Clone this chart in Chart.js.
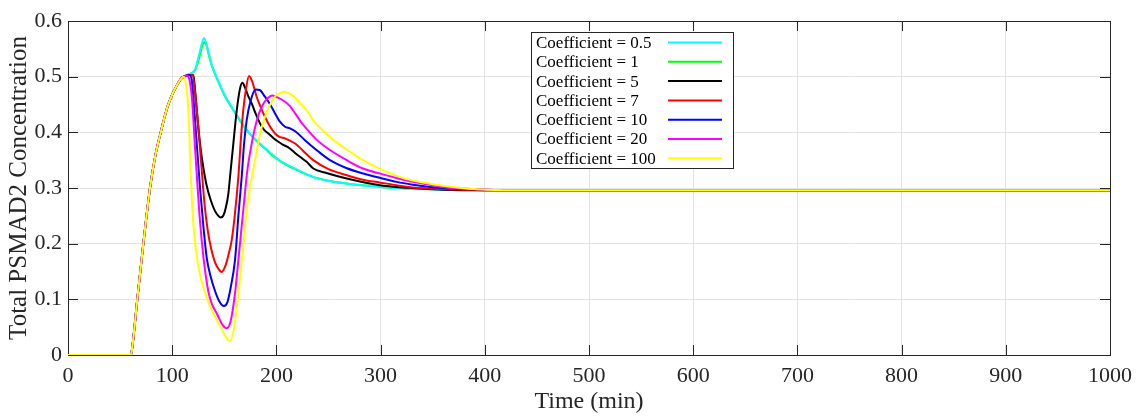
<!DOCTYPE html>
<html><head><meta charset="utf-8">
<script src="https://cdn.jsdelivr.net/npm/chart.js@4.4.1/dist/chart.umd.min.js"></script>
<style>html,body{margin:0;padding:0;background:#fff;}#wrap{width:1141px;height:417px;}</style>
</head><body><div id="wrap"><canvas id="c" width="1141" height="417"></canvas></div>
<script>
// ---- shared rising phase (all coefficients) ----
const riseTime  = [0, 60, 61, 66.5, 72.3, 78.7, 84, 89, 95, 100, 105, 108, 111];
const riseValue = [0, 0, 0.005, 0.1, 0.2, 0.3, 0.36, 0.4, 0.443, 0.468, 0.486, 0.495, 0.5];

// ---- Coefficient = 0.5 ----
const tC05 = [113, 115.5, 118, 120, 122, 125, 128, 130.5, 133, 135, 138, 141, 144.3, 150, 155, 160, 165, 170, 180, 190, 200, 210, 220, 235, 250, 267, 300, 340, 400, 1000];
const vC05 = [0.502, 0.504, 0.506, 0.508, 0.513, 0.533, 0.556, 0.569, 0.558, 0.542, 0.521, 0.506, 0.492, 0.468, 0.452, 0.437, 0.422, 0.408, 0.387, 0.37, 0.354, 0.342, 0.333, 0.32, 0.313, 0.308, 0.302, 0.298, 0.296, 0.296];
// ---- Coefficient = 1 ----
const tC1 = [113, 115.5, 118, 120, 122, 125, 128, 130.5, 133, 135, 138, 141, 144.3, 150, 155, 160, 165, 170, 180, 190, 200, 210, 220, 235, 250, 267, 300, 340, 400, 1000];
const vC1 = [0.502, 0.504, 0.506, 0.508, 0.512, 0.528, 0.55, 0.562, 0.556, 0.54, 0.52, 0.505, 0.491, 0.467, 0.451, 0.436, 0.421, 0.407, 0.386, 0.369, 0.353, 0.341, 0.332, 0.32, 0.313, 0.308, 0.302, 0.298, 0.296, 0.296];
// ---- Coefficient = 5 ----
const tC5 = [114, 117, 120.3, 122, 124.5, 127, 130, 133, 137, 141, 144.3, 146.5, 149, 151.5, 153.9, 156, 158.7, 160.8, 162.8, 165, 167.3, 170, 173, 176.3, 180, 184.3, 188, 192.3, 197, 201.9, 206, 211.4, 217.9, 222.6, 229, 235.4, 248, 267.5, 287, 299.4, 315, 331, 360, 400, 1000];
const vC5 = [0.502, 0.503, 0.503, 0.475, 0.42, 0.375, 0.335, 0.305, 0.278, 0.259, 0.25, 0.247, 0.25, 0.265, 0.29, 0.33, 0.38, 0.42, 0.452, 0.478, 0.489, 0.48, 0.465, 0.452, 0.434, 0.416, 0.405, 0.398, 0.39, 0.383, 0.378, 0.373, 0.363, 0.356, 0.347, 0.335, 0.327, 0.317, 0.309, 0.305, 0.302, 0.3, 0.297, 0.296, 0.296];
// ---- Coefficient = 7 ----
const tC7 = [114, 117, 119.7, 122, 125, 128, 131, 134, 137.5, 141, 144.3, 147.5, 151, 154, 157, 160, 163.5, 166, 168.2, 171, 173.7, 177, 181, 185, 189, 194, 198.7, 203, 208.3, 213, 218, 225, 235.4, 250, 267.5, 283, 299, 315, 331, 360, 400, 1000];
const vC7 = [0.502, 0.503, 0.503, 0.47, 0.41, 0.34, 0.272, 0.225, 0.19, 0.167, 0.155, 0.149, 0.16, 0.18, 0.205, 0.25, 0.32, 0.39, 0.44, 0.48, 0.501, 0.49, 0.464, 0.445, 0.428, 0.41, 0.398, 0.392, 0.389, 0.385, 0.38, 0.368, 0.35, 0.334, 0.323, 0.315, 0.31, 0.305, 0.301, 0.298, 0.296, 0.296];
// ---- Coefficient = 10 ----
const tC10 = [114, 117, 119, 122, 126.7, 130, 133.1, 137, 141.1, 145, 149.7, 153, 156, 160.3, 163.5, 166.7, 169, 171.5, 175, 180.1, 184, 189, 194, 198.7, 203, 208.3, 213, 218, 227.4, 240, 251.4, 267, 283.4, 300, 315.4, 331, 347.4, 370, 400, 430, 1000];
const vC10 = [0.502, 0.503, 0.49, 0.42, 0.3, 0.23, 0.175, 0.14, 0.115, 0.097, 0.088, 0.095, 0.12, 0.171, 0.25, 0.32, 0.38, 0.422, 0.455, 0.477, 0.476, 0.464, 0.45, 0.434, 0.42, 0.41, 0.407, 0.402, 0.386, 0.366, 0.35, 0.336, 0.326, 0.318, 0.311, 0.306, 0.302, 0.299, 0.297, 0.296, 0.296];
// ---- Coefficient = 20 ----
const tC20 = [114, 116, 119, 122, 126.7, 130, 134.6, 138, 142.7, 148, 152.3, 156, 160.3, 164, 168.2, 172, 176.3, 181, 185.9, 191, 196, 202, 208.3, 213, 218, 225, 232, 239, 250, 267.5, 283, 299.4, 315, 331, 350, 363, 390, 420, 1000];
const vC20 = [0.502, 0.498, 0.46, 0.37, 0.24, 0.175, 0.115, 0.092, 0.075, 0.055, 0.048, 0.06, 0.111, 0.18, 0.26, 0.33, 0.38, 0.42, 0.446, 0.46, 0.466, 0.462, 0.455, 0.447, 0.434, 0.415, 0.4, 0.386, 0.37, 0.35, 0.335, 0.326, 0.318, 0.311, 0.305, 0.301, 0.298, 0.296, 0.296];
// ---- Coefficient = 100 ----
const tC100 = [113, 115.5, 117.7, 120.3, 125, 131.5, 139.5, 146, 151, 155.5, 159.5, 163.5, 167.5, 171.5, 175.5, 179.5, 184, 189, 194, 199, 204, 208, 213, 218, 223, 230, 235, 245, 255, 270, 283, 300, 310, 325, 341, 360, 373, 390, 402, 430, 1000];
const vC100 = [0.488, 0.44, 0.33, 0.235, 0.16, 0.112, 0.075, 0.052, 0.034, 0.025, 0.05, 0.11, 0.18, 0.26, 0.31, 0.35, 0.395, 0.428, 0.45, 0.465, 0.471, 0.473, 0.469, 0.462, 0.452, 0.437, 0.422, 0.403, 0.386, 0.366, 0.35, 0.334, 0.326, 0.316, 0.31, 0.304, 0.301, 0.298, 0.297, 0.296, 0.296];

const seriesLabels = ['Coefficient = 0.5', 'Coefficient = 1', 'Coefficient = 5', 'Coefficient = 7', 'Coefficient = 10', 'Coefficient = 20', 'Coefficient = 100'];
const seriesColors = ['#00ffff', '#00ff00', '#000000', '#ff0000', '#0000ff', '#ff00ff', '#ffff00'];
const seriesTimes  = [tC05, tC1, tC5, tC7, tC10, tC20, tC100];
const seriesValues = [vC05, vC1, vC5, vC7, vC10, vC20, vC100];
const drawOrder    = [5, 6, 4, 3, 2, 1, 0];   // lower = drawn on top

const xTicks = [0, 100, 200, 300, 400, 500, 600, 700, 800, 900, 1000];
const yTicks = [0, 0.1, 0.2, 0.3, 0.4, 0.5, 0.6];

function buildPoints(t, v) {
  const pts = riseTime.map((x, i) => ({x: x, y: riseValue[i]}));
  t.forEach((x, i) => pts.push({x: x, y: v[i]}));
  return pts;
}

const FONT = "'Liberation Serif', 'Times New Roman', Times, serif";
const AXIS_COLOR = '#262626';

const framePlugin = {
  id: 'frame',
  beforeDatasetsDraw(chart) {
    const ctx = chart.ctx, a = chart.chartArea;
    const xs = chart.scales.x, ys = chart.scales.y;
    ctx.save();
    ctx.strokeStyle = AXIS_COLOR;
    ctx.lineWidth = 1;
    ctx.strokeRect(Math.round(a.left) + 0.5, Math.round(a.top) + 0.5, Math.round(a.right - a.left), Math.round(a.bottom - a.top));
    const L = 10;
    ctx.beginPath();
    xTicks.forEach(v => {
      const px = Math.round(xs.getPixelForValue(v)) + 0.5;
      ctx.moveTo(px, a.bottom); ctx.lineTo(px, a.bottom - L);
      ctx.moveTo(px, a.top); ctx.lineTo(px, a.top + L);
    });
    yTicks.forEach(v => {
      const py = Math.round(ys.getPixelForValue(v)) + 0.5;
      ctx.moveTo(a.left, py); ctx.lineTo(a.left + L, py);
      ctx.moveTo(a.right, py); ctx.lineTo(a.right - L, py);
    });
    ctx.stroke();
    ctx.restore();
  },
  afterDraw(chart) {
    const ctx = chart.ctx;
    const bx = 531, by = 32, bw = 202, bh = 136;
    ctx.save();
    ctx.fillStyle = '#ffffff';
    ctx.fillRect(bx, by, bw, bh);
    ctx.strokeStyle = AXIS_COLOR;
    ctx.lineWidth = 1;
    ctx.strokeRect(bx + 0.5, by + 0.5, bw, bh);
    ctx.font = '17px ' + FONT;
    ctx.textBaseline = 'middle';
    ctx.textAlign = 'left';
    chart.data.datasets.forEach((ds, i) => {
      const y = by + 11.5 + i * 19.3;
      ctx.fillStyle = '#000000';
      ctx.fillText(ds.label, bx + 5, y);
      ctx.strokeStyle = ds.borderColor;
      ctx.lineWidth = 2;
      ctx.beginPath();
      ctx.moveTo(bx + 137, y - 1);
      ctx.lineTo(bx + 191, y - 1);
      ctx.stroke();
    });
    ctx.restore();
  }
};

const datasets = seriesLabels.map((lab, i) => ({
  label: lab,
  data: buildPoints(seriesTimes[i], seriesValues[i]),
  borderColor: seriesColors[i],
  backgroundColor: seriesColors[i],
  borderWidth: 2,
  pointRadius: 0,
  fill: false,
  cubicInterpolationMode: 'monotone',
  order: drawOrder[i]
}));

new Chart(document.getElementById('c'), {
  type: 'line',
  data: { datasets: datasets },
  options: {
    responsive: false,
    animation: false,
    devicePixelRatio: 1,
    layout: { padding: { top: 21, right: 31, left: 0, bottom: 0 } },
    plugins: { legend: { display: false }, tooltip: { enabled: false } },
    scales: {
      x: {
        type: 'linear', min: 0, max: 1000,
        afterFit: s => { s.height = 62; },
        afterBuildTicks: s => { s.ticks = xTicks.map(v => ({ value: v })); },
        ticks: { font: { family: FONT, size: 22 }, color: AXIS_COLOR, padding: 8, maxRotation: 0, autoSkip: false,
                 callback: v => String(v) },
        grid: { color: '#e3e3e3', drawTicks: false },
        border: { display: false },
        title: { display: true, text: 'Time (min)', color: AXIS_COLOR, font: { family: FONT, size: 24, lineHeight: 1.2 }, padding: { top: 0, bottom: 1 } }
      },
      y: {
        type: 'linear', min: 0, max: 0.6,
        afterFit: s => { s.width = 68; },
        afterBuildTicks: s => { s.ticks = yTicks.map(v => ({ value: v })); },
        ticks: { font: { family: FONT, size: 22 }, color: AXIS_COLOR, padding: 6,
                 callback: v => (v === 0 ? '0' : Number(v).toFixed(1)) },
        grid: { color: '#e3e3e3', drawTicks: false },
        border: { display: false },
        title: { display: true, text: 'Total PSMAD2 Concentration', color: AXIS_COLOR, font: { family: FONT, size: 25, lineHeight: 1.2 }, padding: { top: 4, bottom: 0 } }
      }
    }
  },
  plugins: [framePlugin]
});
</script></body></html>
